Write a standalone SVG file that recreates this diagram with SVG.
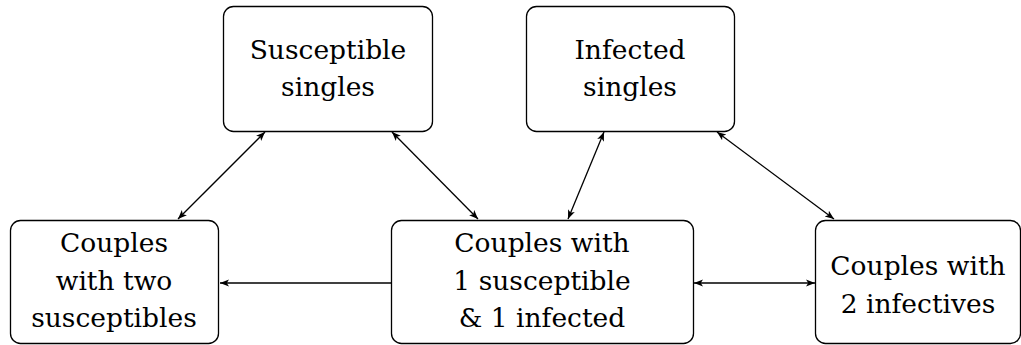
<svg xmlns="http://www.w3.org/2000/svg" width="1021" height="345" viewBox="0 0 1021 345">
<style>
.box{fill:#fff;stroke:#000;stroke-width:1.3}
.t{font-family:'DejaVu Serif',serif;font-size:26.5px;text-anchor:middle;fill:#000}
.c{stroke:#000;stroke-width:1.3;fill:none;marker-end:url(#ah);marker-start:url(#ahs)}
.c1{stroke:#000;stroke-width:1.3;fill:none;marker-end:url(#ah)}
</style>
<defs>
<marker id="ah" viewBox="0 0 10 10" refX="10" refY="5" markerWidth="9" markerHeight="9" markerUnits="userSpaceOnUse" orient="auto">
<path d="M0,1 L10,5 L0,9 L2.5,5 Z" fill="#000"/>
</marker>
<marker id="ahs" viewBox="0 0 10 10" refX="0" refY="5" markerWidth="9" markerHeight="9" markerUnits="userSpaceOnUse" orient="auto">
<path d="M10,1 L0,5 L10,9 L7.5,5 Z" fill="#000"/>
</marker>
</defs>
<g id="connectors">
<line class="c" x1="265" y1="132" x2="178" y2="219"/>
<line class="c" x1="392" y1="132" x2="478" y2="219"/>
<line class="c" x1="604" y1="132" x2="568" y2="219"/>
<line class="c" x1="717" y1="132" x2="834" y2="219"/>
<line class="c1" x1="391" y1="283" x2="220" y2="283"/>
<line class="c" x1="694" y1="283" x2="815" y2="283"/>
</g>
<g id="susceptible-singles">
<rect class="box" x="223.5" y="6.5" width="209" height="125" rx="10"/>
<text class="t" x="328" y="59">Susceptible</text>
<text class="t" x="328" y="96">singles</text>
</g>
<g id="infected-singles">
<rect class="box" x="526.5" y="6.5" width="208" height="125" rx="10"/>
<text class="t" x="630" y="59">Infected</text>
<text class="t" x="630" y="96">singles</text>
</g>
<g id="couples-two-susceptibles">
<rect class="box" x="10.5" y="220.5" width="208" height="123" rx="10"/>
<text class="t" x="114" y="252">Couples</text>
<text class="t" x="114" y="290">with two</text>
<text class="t" x="114" y="327">susceptibles</text>
</g>
<g id="couples-1s-1i">
<rect class="box" x="391.5" y="220.5" width="302" height="123" rx="10"/>
<text class="t" x="542" y="252">Couples with</text>
<text class="t" x="542" y="290">1 susceptible</text>
<text class="t" x="542" y="327">&amp; 1 infected</text>
</g>
<g id="couples-2-infectives">
<rect class="box" x="815.5" y="220.5" width="205" height="123" rx="10"/>
<text class="t" x="918" y="275">Couples with</text>
<text class="t" x="918" y="313">2 infectives</text>
</g>
</svg>
